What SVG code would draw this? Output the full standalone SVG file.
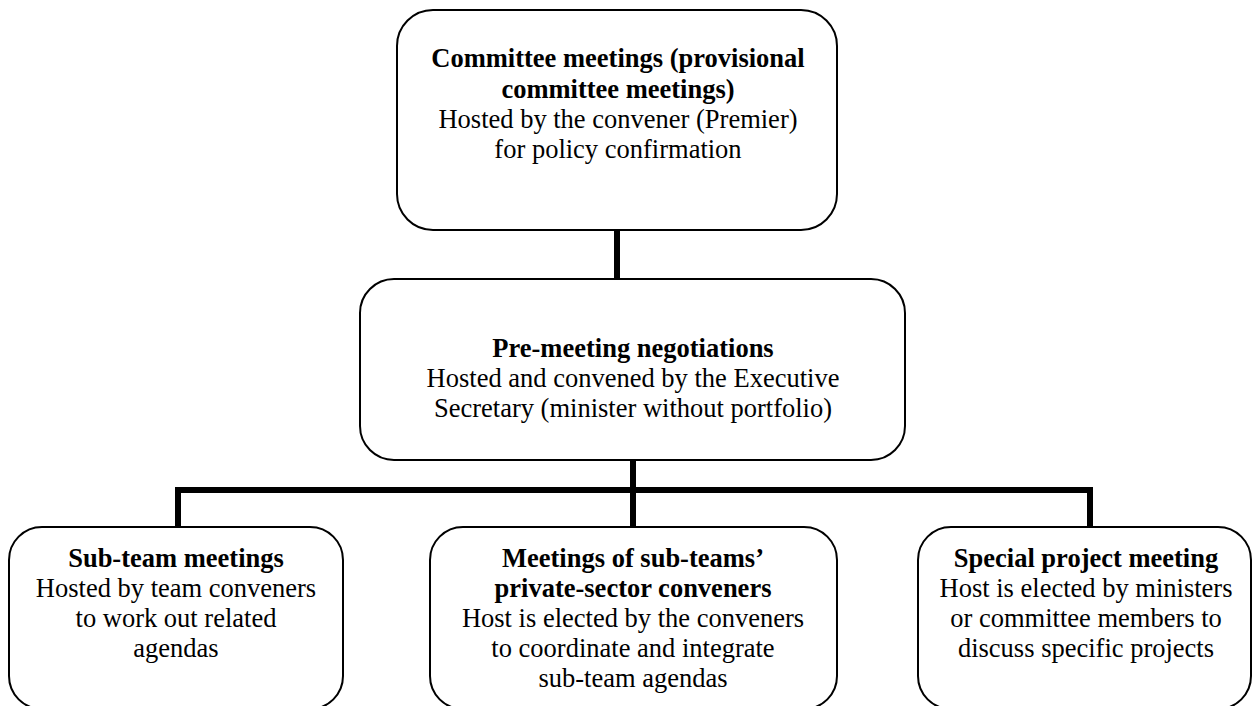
<svg xmlns="http://www.w3.org/2000/svg" width="1260" height="706" viewBox="0 0 1260 706">
<style>
.box{fill:#fff;stroke:#000;stroke-width:2}
.conn{fill:none;stroke:#000;stroke-width:6;stroke-linecap:butt;stroke-linejoin:miter}
text{font-family:"Liberation Serif","Times New Roman",serif;font-size:26.5px;fill:#000;text-anchor:middle}
.b{font-weight:bold}
</style>
<rect width="1260" height="706" fill="#fff"/>
<g id="connectors">
<line class="conn" x1="617" y1="230" x2="617" y2="279"/>
<line class="conn" x1="633" y1="460" x2="633" y2="527"/>
<path class="conn" d="M178,527 V490 H1090 V527"/>
</g>
<g id="node-committee">
<rect class="box" x="397" y="10" width="440" height="220" rx="36" ry="36"/>
<text x="618" y="67" class="b">Committee meetings (provisional</text>
<text x="618" y="98" class="b">committee meetings)</text>
<text x="618" y="128">Hosted by the convener (Premier)</text>
<text x="618" y="158">for policy confirmation</text>
</g>
<g id="node-premeeting">
<rect class="box" x="360" y="279" width="545" height="181" rx="34" ry="34"/>
<text x="633" y="357" class="b">Pre-meeting negotiations</text>
<text x="633" y="387">Hosted and convened by the Executive</text>
<text x="633" y="417">Secretary (minister without portfolio)</text>
</g>
<g id="node-subteam">
<rect class="box" x="9" y="527" width="334" height="182" rx="33" ry="33"/>
<text x="176" y="567" class="b">Sub-team meetings</text>
<text x="176" y="597">Hosted by team conveners</text>
<text x="176" y="627">to work out related</text>
<text x="176" y="657">agendas</text>
</g>
<g id="node-conveners">
<rect class="box" x="430" y="527" width="407" height="182" rx="33" ry="33"/>
<text x="633" y="567" class="b">Meetings of sub-teams’</text>
<text x="633" y="597" class="b">private-sector conveners</text>
<text x="633" y="627">Host is elected by the conveners</text>
<text x="633" y="657">to coordinate and integrate</text>
<text x="633" y="687">sub-team agendas</text>
</g>
<g id="node-special">
<rect class="box" x="918" y="527" width="333" height="182" rx="33" ry="33"/>
<text x="1086" y="567" class="b">Special project meeting</text>
<text x="1086" y="597">Host is elected by ministers</text>
<text x="1086" y="627">or committee members to</text>
<text x="1086" y="657">discuss specific projects</text>
</g>
</svg>
